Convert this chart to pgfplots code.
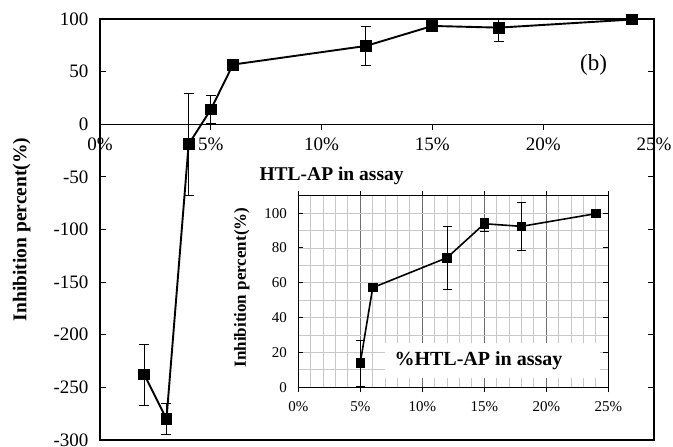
\documentclass[border=0pt]{standalone}
\usepackage{pgfplots}
\pgfplotsset{compat=1.18}
\usepackage{fontspec}
\setmainfont{Liberation Serif}
\definecolor{gridlight}{RGB}{200,200,200}
\definecolor{griddark}{RGB}{110,110,110}
\begin{document}
\begin{tikzpicture}[x=1pt,y=1pt]
\useasboundingbox (0,0) rectangle (673,447);
% ---------------- main axis ----------------
\begin{axis}[
  at={(100pt,7pt)}, anchor=south west,
  scale only axis, width=554pt, height=421pt,
  xmin=0, xmax=25, ymin=-300, ymax=100,
  axis x line*=middle, axis y line*=box,
  hide obscured x ticks=false,
  axis line style={line width=1.2pt},
  xtick={0,5,10,15,20,25},
  xticklabels={0\%,5\%,10\%,15\%,20\%,25\%},
  ytick={-300,-250,-200,-150,-100,-50,0,50,100},
  yticklabels={-300,-250,-200,-150,-100,-50,0,50,100},
  xtick align=outside, ytick align=inside,
  major tick length=6pt,
  tick style={black, line width=1pt},
  ticklabel style={font=\fontsize{19}{19}\selectfont},
  xticklabel style={yshift=-4pt},
  yticklabel style={xshift=-8pt},
  xlabel={\textbf{HTL-AP in assay}},
  xlabel style={at={(axis description cs:0.418,0.627)}, anchor=center, font=\fontsize{19.5}{20}\selectfont},
  ylabel={\textbf{Inhibition percent(\%)}},
  ylabel style={at={(axis description cs:-0.1413,0.5)}, anchor=center, font=\fontsize{19.5}{20}\selectfont},
  clip mode=individual,
]
\draw[line width=1.2pt] (rel axis cs:0,0) rectangle (rel axis cs:1,1);
\addplot[black, line width=1.9pt, mark=square*, mark size=5pt, mark options={solid, fill=black},
  error bars/.cd, y dir=both, y explicit,
  error bar style={line width=1pt},
  error mark options={rotate=90, mark size=5pt, line width=1pt}]
  coordinates {
  (2,-237.8) += (0,29) -= (0,29)
  (3,-280) += (0,15) -= (0,14.5)
  (4,-19) += (0,48) -= (0,48.5)
  (5,14) += (0,13) -= (0,13)
  (6,56.7) += (0,0) -= (0,0)
  (12,74.4) += (0,18.6) -= (0,18.6)
  (15,93.4) += (0,3.5) -= (0,3.5)
  (18,91.8) += (0,13.6) -= (0,13.2)
  (24,99.5) += (0,0) -= (0,0)
  };
\node[font=\fontsize{23}{23}\selectfont] at (axis description cs:0.891,0.891) {(b)};
\end{axis}
% ---------------- inset axis ----------------
\begin{axis}[
  at={(298.3pt,59.7pt)}, anchor=south west,
  scale only axis, width=310pt, height=191.6pt,
  xmin=0, xmax=25, ymin=0, ymax=110,
  axis line style={line width=1.2pt},
  axis background/.style={fill=white},
  xtick={0,5,10,15,20,25},
  xticklabels={0\%,5\%,10\%,15\%,20\%,25\%},
  minor xtick={1,2,3,4,6,7,8,9,11,12,13,14,16,17,18,19,21,22,23,24},
  ytick={0,20,40,60,80,100},
  yticklabels={0,20,40,60,80,100},
  minor ytick={10,30,50,70,90,110},
  grid=both,
  major x grid style={griddark, line width=0.9pt},
  minor x grid style={gridlight, line width=0.9pt},
  major y grid style={gridlight, line width=0.9pt},
  minor y grid style={gridlight, line width=0.9pt},
  xtick align=outside, ytick align=inside,
  major tick length=5pt, minor tick length=0pt,
  tick style={black, line width=1pt},
  ticklabel style={font=\fontsize{15}{15}\selectfont},
  xticklabel style={yshift=-6pt},
  yticklabel style={xshift=-8pt},
  ylabel={\textbf{Inhibition percent(\%)}},
  ylabel style={at={(axis description cs:-0.1826,0.521)}, anchor=center, font=\fontsize{17}{17}\selectfont},
  clip mode=individual,
]
\fill[white] (axis cs:6.99,5.3) rectangle (axis cs:24.33,25.4);
\node[font=\fontsize{20}{20}\selectfont\bfseries] at (axis cs:14.53,15.4) {\%HTL-AP in assay};
\addplot[black, line width=1.6pt, mark=square*, mark size=4pt, mark options={solid, fill=black},
  error bars/.cd, y dir=both, y explicit,
  error bar style={line width=1pt},
  error mark options={rotate=90, mark size=4.5pt, line width=1pt}]
  coordinates {
  (5,14.1) += (0,12.7) -= (0,13.4)
  (6,57.2) += (0,0) -= (0,0)
  (12,74.4) += (0,17.8) -= (0,18.1)
  (15,93.9) += (0,3.1) -= (0,4.2)
  (18,92.4) += (0,13.6) -= (0,13.6)
  (24,99.7) += (0,0) -= (0,0)
  };
\end{axis}
\end{tikzpicture}
\end{document}
